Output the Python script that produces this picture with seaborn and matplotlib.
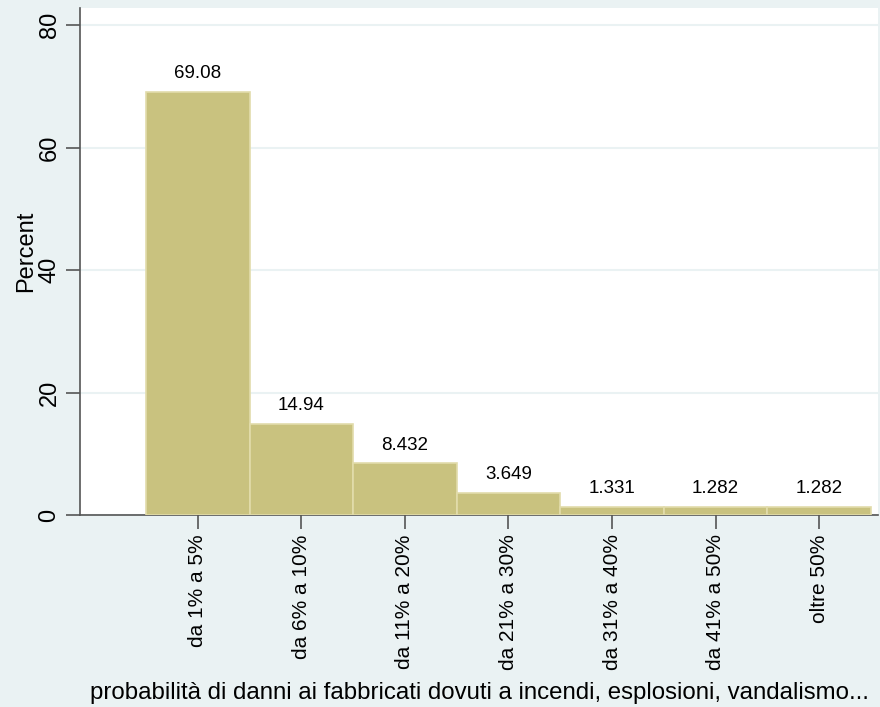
import matplotlib
matplotlib.use("Agg")
import matplotlib.pyplot as plt
import seaborn as sns
import pandas as pd

categories = ["da 1% a 5%", "da 6% a 10%", "da 11% a 20%", "da 21% a 30%",
              "da 31% a 40%", "da 41% a 50%", "oltre 50%"]
percent = [69.08, 14.94, 8.432, 3.649, 1.331, 1.282, 1.282]
bar_labels = ["69.08", "14.94", "8.432", "3.649", "1.331", "1.282", "1.282"]
y_ticks = [0, 20, 40, 60, 80]


def main():
    sns.set_theme(style="white")
    plt.rcParams['font.family'] = ['Liberation Sans', 'DejaVu Sans']
    plt.rcParams['text.color'] = 'black'
    plt.rcParams['axes.labelcolor'] = 'black'
    plt.rcParams['xtick.color'] = 'black'
    plt.rcParams['ytick.color'] = 'black'

    df = pd.DataFrame({"cat": categories, "pct": percent})

    fig = plt.figure(figsize=(8.8, 7.07), dpi=100)
    fig.patch.set_facecolor("#eaf2f3")
    ax = fig.add_axes([80 / 880, 192 / 707, 798 / 880, 507 / 707])
    ax.set_facecolor("white")

    sns.barplot(data=df, x="cat", y="pct", ax=ax, color="#c9c27f",
                saturation=1, width=1.0, edgecolor="#e2dcab", linewidth=1.2,
                zorder=3)

    ax.bar_label(ax.containers[0], labels=bar_labels, padding=7, fontsize=13.5)

    ax.set_xlim(-1.14, 6.57)
    ax.set_ylim(0, 82.8)
    ax.set_yticks(y_ticks)
    ax.set_yticklabels([str(t) for t in y_ticks], rotation=90, va="center",
                       fontsize=17)
    ax.set_xticks(range(len(categories)))
    ax.set_xticklabels(categories, rotation=90, fontsize=15)
    ax.grid(axis="y", color="#eaf2f3", linewidth=1.5, zorder=0)
    ax.set_axisbelow(True)

    for side in ["top", "right"]:
        ax.spines[side].set_visible(False)
    for side in ["left", "bottom"]:
        ax.spines[side].set_color("#555555")
        ax.spines[side].set_linewidth(1.2)
    ax.tick_params(axis="both", direction="out", length=10, width=1.2,
                   color="#555555", left=True, bottom=True, pad=4)

    ax.set_ylabel("Percent", fontsize=17)
    ax.yaxis.set_label_coords(-0.054, 0.521)
    ax.set_xlabel("probabilità di danni ai fabbricati dovuti a incendi, esplosioni, vandalismo...",
                  fontsize=17.3, labelpad=8)

    fig.savefig("out.png", dpi=100, facecolor=fig.get_facecolor())


if __name__ == "__main__":
    main()
